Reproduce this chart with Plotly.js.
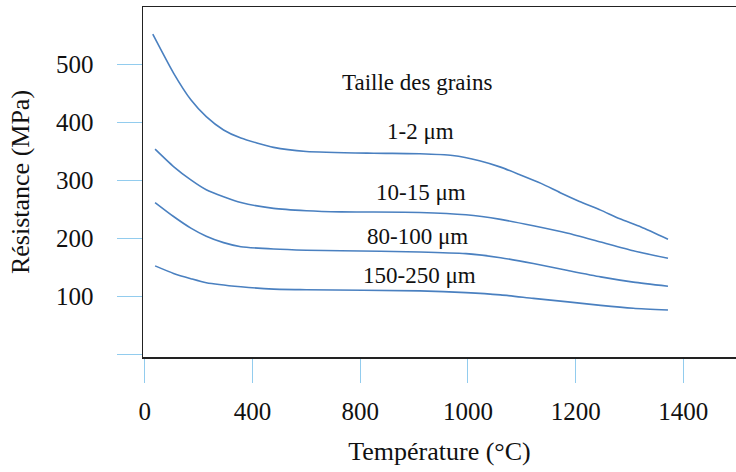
<!DOCTYPE html>
<html>
<head>
<meta charset="utf-8">
<script src="https://cdn.plot.ly/plotly-3.0.1.min.js"></script>
<style>html,body{margin:0;padding:0;background:#fff;}#chart{width:736px;height:472px;}</style>
</head>
<body>
<div id="chart"></div>
<script>
// Data
const seriesNames = ['1-2 μm', '10-15 μm', '80-100 μm', '150-250 μm'];
const temp1 = [21, 75, 120, 160, 205, 250, 335, 420, 595, 715, 800, 870, 925, 975, 1030, 1080, 1130, 1185, 1235, 1290, 1360];
const res1  = [552, 485, 439, 410, 387, 373, 357, 350, 347, 346, 343, 334, 323, 310, 295, 279, 264, 249, 234, 220, 199];
const temp2 = [27, 75, 120, 160, 205, 250, 335, 420, 510, 715, 835, 925, 1010, 1100, 1185, 1270, 1360];
const res2  = [354, 324, 301, 284, 272, 262, 252, 248, 246, 245, 241, 233, 222, 209, 194, 179, 166];
const temp3 = [27, 75, 120, 160, 205, 250, 335, 420, 510, 715, 835, 925, 1010, 1100, 1185, 1270, 1360];
const res3  = [262, 238, 218, 204, 193, 186, 182, 180, 179, 177, 174, 167, 157, 145, 134, 125, 118];
const temp4 = [27, 75, 120, 160, 250, 335, 420, 715, 835, 925, 1010, 1100, 1185, 1270, 1360];
const res4  = [153, 140, 131, 124, 117, 113, 112, 110, 107, 103, 97, 91, 85, 80, 77];

const xTickVals = [0, 280, 560, 840, 1120, 1400];
const xTickText = ['0', '400', '800', '1000', '1200', '1400'];
const yTickVals = [0, 100, 200, 300, 400, 500, 600];
const yTickText = ['', '100', '200', '300', '400', '500', ''];

const legendTitle = 'Taille des grains';
const xTitle = 'Température (°C)';
const yTitle = 'Résistance (MPa)';

const temps = [temp1, temp2, temp3, temp4];
const vals = [res1, res2, res3, res4];

const lineColor = '#4a80c0';
const tickBlue = '#92ccee';
const serif = 'Liberation Serif, Times New Roman, serif';

const traces = temps.map((t, i) => ({
  type: 'scatter', mode: 'lines', name: seriesNames[i],
  x: t, y: vals[i],
  line: {color: lineColor, width: 1.6, shape: 'spline', smoothing: 0.6},
  hoverinfo: 'x+y+name'
}));

// labels placed next to each curve
const labelPos = [[718, 385], [718, 280], [709, 203], [715, 136]];
const annotations = [
  {x: 708, y: 468, xref: 'x', yref: 'y', text: legendTitle, showarrow: false,
   font: {family: serif, size: 23, color: '#111'}}
].concat(seriesNames.map((n, i) => ({
  x: labelPos[i][0], y: labelPos[i][1], xref: 'x', yref: 'y', text: n, showarrow: false,
  font: {family: serif, size: 23, color: '#111'}
})));

const layout = {
  width: 736, height: 472,
  margin: {l: 143, r: 0, t: 7, b: 115, pad: 0},
  paper_bgcolor: '#fff', plot_bgcolor: '#fff',
  showlegend: false,
  font: {family: serif, color: '#111'},
  xaxis: {
    range: [-4.4, 1536.8], fixedrange: true,
    tickvals: xTickVals, ticktext: xTickText,
    ticks: 'outside', ticklen: 24, tickwidth: 1, tickcolor: tickBlue,
    ticklabelstandoff: 7,
    tickfont: {family: serif, size: 25, color: '#111'},
    showline: true, linecolor: '#222', linewidth: 1.5, mirror: true,
    showgrid: false, zeroline: false, automargin: false,
    title: {text: xTitle, font: {family: serif, size: 26, color: '#111'}, standoff: 18}
  },
  yaxis: {
    range: [-3.9, 598.7], fixedrange: true,
    tickvals: yTickVals, ticktext: yTickText,
    ticks: 'outside', ticklen: 25, tickwidth: 1, tickcolor: tickBlue,
    ticklabelstandoff: 18,
    tickfont: {family: serif, size: 25, color: '#111'},
    showline: true, linecolor: '#222', linewidth: 1.5, mirror: false,
    showgrid: false, zeroline: false, automargin: false,
    title: {text: yTitle, font: {family: serif, size: 26, color: '#111'}, standoff: 19}
  },
  annotations: annotations
};

Plotly.newPlot('chart', traces, layout, {displayModeBar: false, staticPlot: true});
</script>
</body>
</html>
